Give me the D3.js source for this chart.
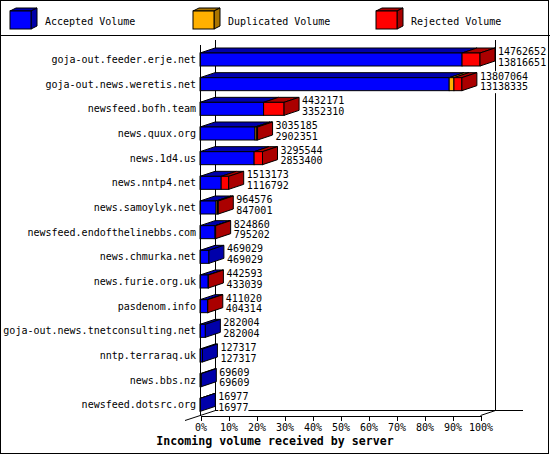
<!DOCTYPE html>
<html>
  <head>
    <title>Incoming volume</title>
    <script src="https://d3js.org/d3.v7.min.js"></script>
    <style>
      body { margin: 0; background: #fff; }
      text { font-family: "DejaVu Sans Mono", monospace; font-size: 10px; }
    </style>
  </head>
  <body>
  </body>
</html>

<script>
  // servers, top to bottom
  var hosts = ["goja-out.feeder.erje.net", "goja-out.news.weretis.net", "newsfeed.bofh.team",
               "news.quux.org", "news.1d4.us", "news.nntp4.net", "news.samoylyk.net",
               "newsfeed.endofthelinebbs.com", "news.chmurka.net", "news.furie.org.uk",
               "pasdenom.info", "goja-out.news.tnetconsulting.net", "nntp.terraraq.uk",
               "news.bbs.nz", "newsfeed.dotsrc.org"];
  var accepted   = [13816651, 13138335, 3352310, 2902351, 2853400, 1116792, 847001,
                    795202, 469029, 433039, 404314, 282004, 127317, 69609, 16977];
  var duplicated = [0, 250000, 0, 90000, 0, 0, 70000, 0, 0, 0, 0, 0, 0, 0, 0];
  var rejected   = [946001, 418729, 1079861, 42834, 442144, 396381, 47575,
                    29658, 0, 9554, 6706, 0, 0, 0, 0];
  var legendNames = ["Accepted Volume", "Duplicated Volume", "Rejected Volume"];
  var pctTicks = [0, 10, 20, 30, 40, 50, 60, 70, 80, 90, 100];

  var colors = [{front: "#0000FF", dark: "#0000AA"},
                {front: "#FFB000", dark: "#AA7500"},
                {front: "#FF0000", dark: "#AA0000"}];

  var W = 550, H = 455;
  var DX = 15, DY = 5, BAR_H = 13;

  var svg = d3.select("body").append("svg")
              .attr("width", W)
              .attr("height", H);

  // frame + legend separator
  svg.append("rect").attr("x", 0.5).attr("y", 0.5).attr("width", W - 2).attr("height", H - 2)
     .attr("fill", "#fff").attr("stroke", "#000").attr("shape-rendering", "crispEdges");
  svg.append("line").attr("x1", 0).attr("x2", W).attr("y1", 35.5).attr("y2", 35.5)
     .attr("stroke", "#000").attr("shape-rendering", "crispEdges");

  // legend cubes
  var legendX = [10, 193, 376];
  legendNames.forEach(function (name, i) {
    var lx = legendX[i], ly = 11, lw = 21, lh = 18, d = 6, e = 3;
    var g = svg.append("g").attr("stroke", "#000").attr("stroke-width", 1);
    g.append("polygon")
     .attr("points", [[lx, ly], [lx + d, ly - e], [lx + lw + d, ly - e], [lx + lw, ly]].join(" "))
     .attr("fill", colors[i].dark);
    g.append("polygon")
     .attr("points", [[lx + lw, ly], [lx + lw + d, ly - e], [lx + lw + d, ly + lh - e], [lx + lw, ly + lh]].join(" "))
     .attr("fill", colors[i].dark);
    g.append("rect").attr("x", lx).attr("y", ly).attr("width", lw).attr("height", lh)
     .attr("fill", colors[i].front);
    svg.append("text").attr("x", lx + 35).attr("y", 25).text(name);
  });

  var totals = hosts.map(function (h, i) { return accepted[i] + duplicated[i] + rejected[i]; });

  var x = d3.scaleLinear().domain([0, d3.max(totals)]).range([200, 480]);
  var pct = d3.scaleLinear().domain([0, 100]).range([200, 480]);
  var y = d3.scaleBand().domain(hosts).range([45, 415]);

  // back wall and floor
  var wall = svg.append("g").attr("stroke", "#000").attr("fill", "none");
  wall.append("line").attr("x1", 215.5).attr("x2", 215.5).attr("y1", 40).attr("y2", 410.5);
  wall.append("line").attr("x1", 495.5).attr("x2", 495.5).attr("y1", 40).attr("y2", 410.5);
  wall.append("line").attr("x1", 215).attr("x2", 523).attr("y1", 410.5).attr("y2", 410.5);
  wall.append("line").attr("x1", 185).attr("x2", 215.5).attr("y1", 420.5).attr("y2", 410.5);
  wall.append("line").attr("x1", 480.5).attr("x2", 495.5).attr("y1", 415.5).attr("y2", 410.5);

  // bars
  hosts.forEach(function (h, i) {
    var segs = [accepted[i], duplicated[i], rejected[i]];
    var y0 = y(h) + 8, start = 0, last = 0;
    var g = svg.append("g").attr("stroke", "#000").attr("stroke-width", 1);
    segs.forEach(function (v, k) {
      if (v <= 0) return;
      var x1 = x(start), x2 = x(start + v);
      g.append("polygon")
       .attr("points", [[x1, y0], [x1 + DX, y0 - DY], [x2 + DX, y0 - DY], [x2, y0]].join(" "))
       .attr("fill", colors[k].dark);
      g.append("rect").attr("x", x1).attr("y", y0).attr("width", x2 - x1).attr("height", BAR_H)
       .attr("fill", colors[k].front);
      start += v;
      last = k;
    });
    var xe = x(start);
    g.append("polygon")
     .attr("points", [[xe, y0], [xe + DX, y0 - DY], [xe + DX, y0 + BAR_H - DY], [xe, y0 + BAR_H]].join(" "))
     .attr("fill", colors[last].dark);

    // value labels: total and accepted
    var lx = xe + 18, cy = y0 + BAR_H / 2;
    var lab = [totals[i], accepted[i]].map(String);
    var lw = d3.max(lab, function (s) { return s.length; }) * 6.02;
    svg.append("rect").attr("x", lx).attr("y", cy - 13).attr("width", lw).attr("height", 22)
       .attr("fill", "#fff");
    svg.append("text").attr("x", lx).attr("y", cy - 4.5).text(lab[0]);
    svg.append("text").attr("x", lx).attr("y", cy + 6).text(lab[1]);

    // host label
    svg.append("text").attr("x", 196).attr("y", cy + 3.5)
       .attr("text-anchor", "end").text(h);
  });

  // front left axis
  svg.append("line").attr("x1", 200.5).attr("x2", 200.5).attr("y1", 45).attr("y2", 415.5)
     .attr("stroke", "#000").attr("shape-rendering", "crispEdges");

  // percentage axis
  var axis = svg.append("g")
                .attr("transform", "translate(0.5,415.5)")
                .call(d3.axisBottom(pct).tickValues(pctTicks).tickSize(5).tickSizeOuter(0).tickPadding(3)
                        .tickFormat(function (d) { return d + "%"; }));
  axis.select(".domain").attr("shape-rendering", "crispEdges");
  axis.selectAll("line").attr("shape-rendering", "crispEdges");
  axis.selectAll("text").attr("font-family", "DejaVu Sans Mono").attr("font-size", 10).attr("fill", "#000");

  svg.append("text").attr("x", 275).attr("y", 445).attr("text-anchor", "middle")
     .style("font-weight", "bold").style("font-size", "11.6px")
     .text("Incoming volume received by server");
</script>
